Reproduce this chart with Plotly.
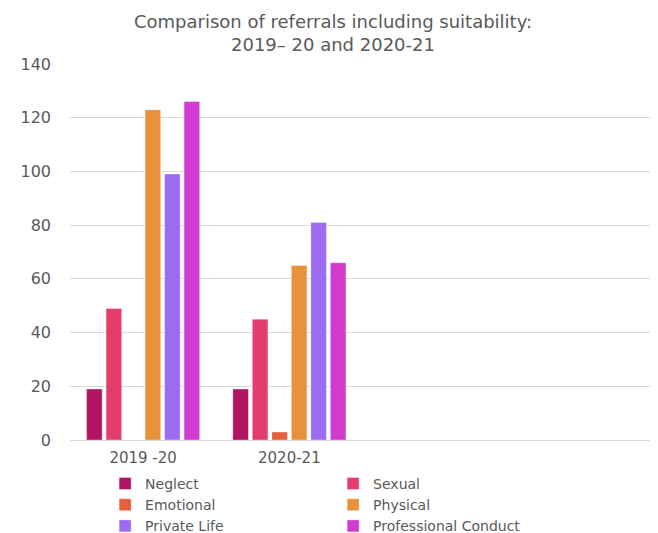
import plotly.graph_objects as go

categories = ["2019 -20", "2020-21"]
padding_categories = [" ", "  "]
series_names = ["Neglect", "Sexual", "Emotional", "Physical", "Private Life", "Professional Conduct"]
neglect = [19, 19]
sexual = [49, 45]
emotional = [0, 3]
physical = [123, 65]
private_life = [99, 81]
professional_conduct = [126, 66]
y_ticks = [0, 20, 40, 60, 80, 100, 120, 140]

colors = ["#B01462", "#E23D6D", "#E5603A", "#E8933B", "#9D6BEF", "#D23BCF"]
values = [neglect, sexual, emotional, physical, private_life, professional_conduct]

fig = go.Figure()
for name, vals, col in zip(series_names, values, colors):
    fig.add_trace(go.Bar(x=categories, y=vals, name=name,
                         marker=dict(color=col, line=dict(width=0.6, color="rgba(255,255,255,0.6)"))))

fig.update_layout(
    width=650, height=525,
    margin=dict(l=62, r=3, t=56, b=93, autoexpand=False),
    paper_bgcolor="white", plot_bgcolor="white",
    barmode="group", bargap=0.2, bargroupgap=0.2,
    font=dict(family="DejaVu Sans, sans-serif", color="#595959"),
    title=dict(text="Comparison of referrals including suitability:<br>2019– 20 and 2020-21",
               x=0.5, xanchor="center", y=0.962, yanchor="top",
               font=dict(size=18, family="DejaVu Sans, sans-serif", color="#595959")),
    showlegend=True,
    legend=dict(orientation="h", x=0.06, xanchor="left", yref="container", y=0.124, yanchor="top",
                entrywidth=183, font=dict(size=14, color="#595959"),
                traceorder="normal", tracegroupgap=0, itemwidth=30),
    xaxis=dict(type="category", categoryorder="array",
               categoryarray=categories + padding_categories,
               range=[-0.5, 3.5], showgrid=False, showline=False, automargin=False,
               tickfont=dict(size=15, color="#595959"), ticks="", ticklabelstandoff=7),
    yaxis=dict(range=[0, 140], tickvals=y_ticks, showgrid=True, gridcolor="#D9D9D9",
               gridwidth=1, zeroline=True, zerolinecolor="#D9D9D9", zerolinewidth=1,
               automargin=False,
               tickfont=dict(size=16, color="#595959"), ticks="", ticklabelstandoff=18),
)

fig.write_html("out.html")
